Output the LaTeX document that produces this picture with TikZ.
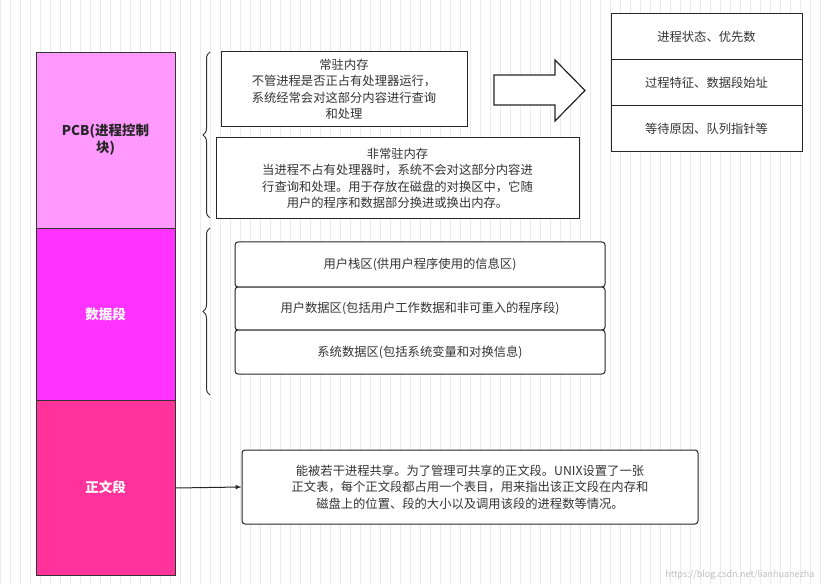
\documentclass[tikz,border=0pt]{standalone}
\usepackage{fontspec}
\setmainfont{Noto Sans CJK SC}
\usetikzlibrary{decorations.pathreplacing}
\tikzset{
 seg/.style={draw=black!80,line width=0.8pt},
 sq/.style={draw=black!85,line width=1pt,fill=white},
 rd/.style={draw=black!85,line width=1pt,fill=white,rounded corners=3pt},
 txt/.style={font=\fontsize{12.3}{16.5}\selectfont,align=center,text=black!80},
 br/.style={decorate,decoration={brace,amplitude=7pt},line width=1pt,draw=black!80},
 lab/.style={font=\bfseries\fontsize{13.5}{17}\selectfont,align=center},
}
\begin{document}
\begin{tikzpicture}[x=1pt,y=-1pt]
\useasboundingbox (0,0) rectangle (821,585);
\fill[white] (0,0) rectangle (821,585);
\draw[black!8,line width=0.4pt,step=10] (0,0) grid (821,585);
% column
\filldraw[seg,fill={rgb,255:red,255;green,153;blue,255}] (36,52) rectangle (175,228) node[midway,lab,text=black!85] (pcb) {PCB(进程控制\\块)};
\filldraw[seg,fill={rgb,255:red,255;green,51;blue,255}] (36,228) rectangle (175,400) node[midway,lab,text=white] (data) {数据段};
\filldraw[seg,fill={rgb,255:red,255;green,51;blue,153}] (36,400) rectangle (175,575) node[midway,lab,text=white] (zw) {正文段};
\coordinate (zwR) at (175,488);
% braces
\draw[br] (210,218) -- (210,52);
\draw[br] (210,395) -- (210,228);
% PCB boxes
\node[sq,txt,minimum width=246,minimum height=75,inner sep=1pt] (b1) at (344,89.5) {常驻内存\\不管进程是否正占有处理器运行，\\系统经常会对这部分内容进行查询\\和处理};
\node[sq,txt,minimum width=363,minimum height=81,inner sep=1pt] (b2) at (397.5,178.5) {非常驻内存\\当进程不占有处理器时，系统不会对这部分内容进\\行查询和处理。用于存放在磁盘的对换区中，它随\\用户的程序和数据部分换进或换出内存。};
% big arrow
\draw[line width=1.2pt,draw=black!85,fill=white] (494,75) -- (555,75) -- (555,60) -- (585,90.5) -- (555,121) -- (555,105) -- (494,105) -- cycle;
% right stack
\node[sq,txt,minimum width=191,minimum height=46] (r1) at (706.5,37) {进程状态、优先数};
\node[sq,txt,minimum width=191,minimum height=46] (r2) at (706.5,83) {过程特征、数据段始址};
\node[sq,txt,minimum width=191,minimum height=46] (r3) at (706.5,129) {等待原因、队列指针等};
% data boxes
\node[rd,txt,minimum width=370,minimum height=45] (d1) at (420,264.5) {用户栈区(供用户程序使用的信息区)};
\node[rd,txt,minimum width=370,minimum height=43] (d2) at (420,308.5) {用户数据区(包括用户工作数据和非可重入的程序段)};
\node[rd,txt,minimum width=370,minimum height=44] (d3) at (420,352) {系统数据区(包括系统变量和对换信息)};
% text box
\node[rd,txt,minimum width=456,minimum height=74,inner sep=1pt] (t) at (470,487) {能被若干进程共享。为了管理可共享的正文段。UNIX设置了一张\\正文表，每个正文段都占用一个表目，用来指出该正文段在内存和\\磁盘上的位置、段的大小以及调用该段的进程数等情况。};
\draw[line width=1pt,draw=black!85,-latex] (zwR) -- (t.west);
\node[font=\fontsize{9}{11}\selectfont,text=black!25,anchor=south east] (wm) at (818,583) {https://blog.csdn.net/lianhuanezha};
\end{tikzpicture}
\end{document}
